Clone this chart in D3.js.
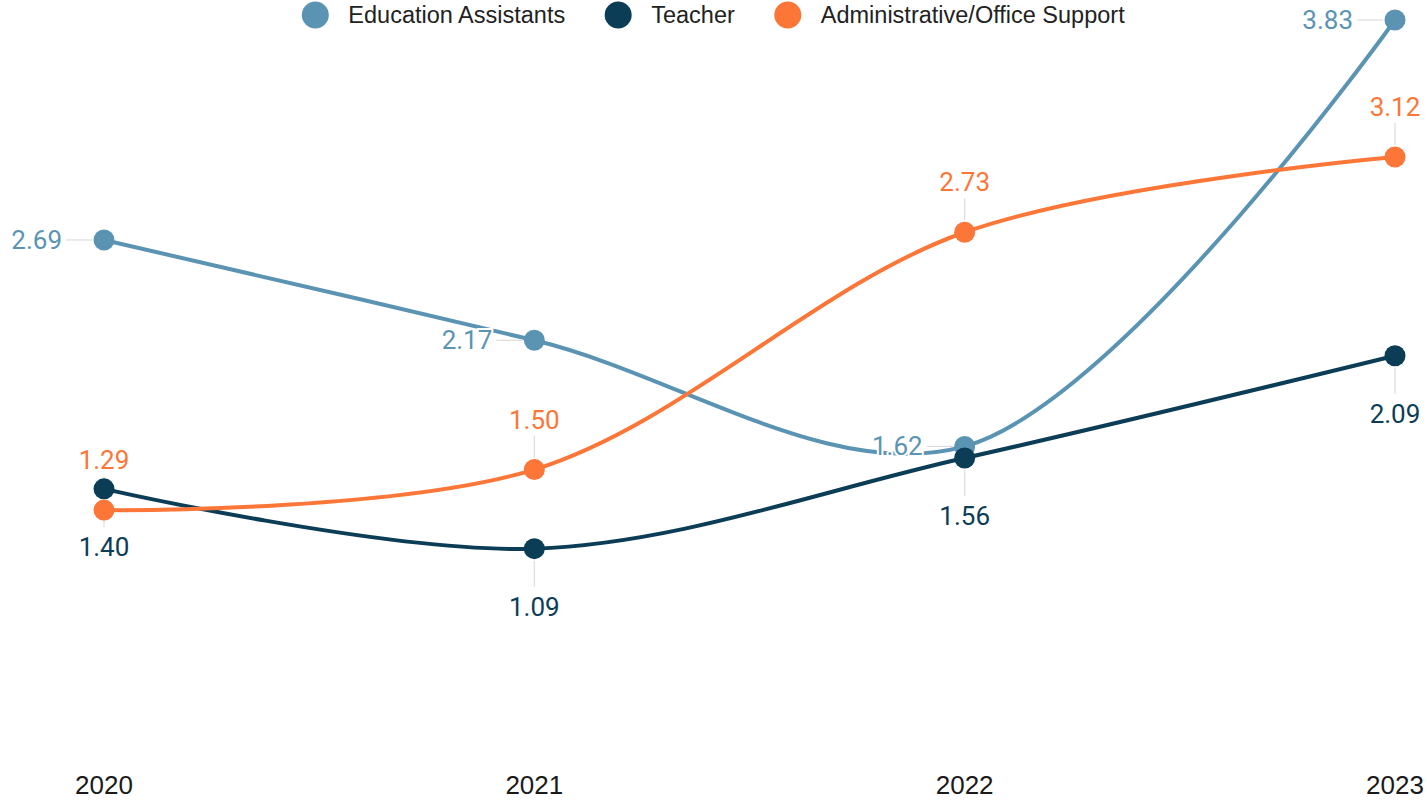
<!DOCTYPE html>
<html>
<head>
<meta charset="utf-8">
<script src="https://cdn.jsdelivr.net/npm/d3@7"></script>
<style>
  body { margin: 0; background: #fff; }
  svg { display: block; }
</style>
</head>
<body>
<div id="chart"></div>
<script>
// data
const years = ["2020", "2021", "2022", "2023"];
const seriesNames = ["Education Assistants", "Teacher", "Administrative/Office Support"];
const eduAssistants = [2.69, 2.17, 1.62, 3.83];
const teacher = [1.40, 1.09, 1.56, 2.09];
const adminSupport = [1.29, 1.50, 2.73, 3.12];
const colors = ["#5b94b3", "#0c3d57", "#fb7637"];
// where each series puts its value labels
const labelSide = ["left", "below", "above"];

const width = 1427, height = 801;

const svg = d3.select("#chart").append("svg")
    .attr("width", width).attr("height", height);

const x = d3.scalePoint().domain(years).range([104, 1395]);
const y = d3.scaleLinear().domain([0, 3.83]).range([759, 20]);

const series = [eduAssistants, teacher, adminSupport].map(function (vals, i) {
    return {
        name: seriesNames[i],
        color: colors[i],
        side: labelSide[i],
        points: vals.map(function (v, j) { return { year: years[j], value: v }; })
    };
});

// x axis labels
svg.append("g").selectAll("text")
    .data(years)
    .enter().append("text")
    .attr("x", d => x(d))
    .attr("y", 794)
    .attr("text-anchor", "middle")
    .attr("font-family", "'Liberation Sans', Arial, sans-serif")
    .attr("font-size", 26)
    .attr("fill", "#1a1a1a")
    .text(d => d);

// lines
const line = d3.line()
    .x(d => x(d.year))
    .y(d => y(d.value))
    .curve(d3.curveCatmullRom);

svg.append("g").selectAll("path")
    .data(series)
    .enter().append("path")
    .attr("d", d => line(d.points))
    .attr("fill", "none")
    .attr("stroke", d => d.color)
    .attr("stroke-width", 4)
    .attr("stroke-linecap", "round");

// leader lines
const leaders = svg.append("g");
series.forEach(function (s) {
    s.points.forEach(function (p) {
        const px = x(p.year), py = y(p.value);
        let x1 = px, y1 = py, x2 = px, y2 = py;
        if (s.side === "left") { x1 = px - 38; x2 = px - 12; }
        else if (s.side === "above") { y1 = py - 34; y2 = py - 12; }
        else { y1 = py + 12; y2 = py + 38; }
        leaders.append("line")
            .attr("x1", x1).attr("y1", y1).attr("x2", x2).attr("y2", y2)
            .attr("stroke", "#dcdcdc").attr("stroke-width", 1.2);
    });
});

// dots
svg.append("g").selectAll("g")
    .data(series)
    .enter().append("g")
    .attr("fill", d => d.color)
    .selectAll("circle")
    .data(d => d.points)
    .enter().append("circle")
    .attr("cx", d => x(d.year))
    .attr("cy", d => y(d.value))
    .attr("r", 10.5);

// value labels
const labels = svg.append("g")
    .attr("font-family", "Roboto, sans-serif")
    .attr("font-size", 26);
series.forEach(function (s) {
    labels.append("g").selectAll("text")
        .data(s.points)
        .enter().append("text")
        .attr("x", function (d) { return s.side === "left" ? x(d.year) - 42 : x(d.year); })
        .attr("y", function (d) {
            if (s.side === "left") return y(d.value) + 9;
            if (s.side === "above") return y(d.value) - 41;
            return y(d.value) + 67;
        })
        .attr("text-anchor", s.side === "left" ? "end" : "middle")
        .attr("fill", s.color)
        .attr("stroke", "#fff")
        .attr("stroke-width", 4)
        .attr("paint-order", "stroke")
        .text(d => d.value.toFixed(2));
});

// legend
const legend = svg.append("g")
    .attr("font-family", "'Liberation Sans', Arial, sans-serif")
    .attr("font-size", 23.5);
let lx = 0;
series.forEach(function (s) {
    const g = legend.append("g").attr("transform", "translate(" + lx + ",0)");
    g.append("circle").attr("cx", 13).attr("cy", 15).attr("r", 13.5).attr("fill", s.color);
    const t = g.append("text").attr("x", 46).attr("y", 23).attr("fill", "#222").text(s.name);
    lx += 46 + t.node().getComputedTextLength() + 40;
});
const legendWidth = lx - 40;
legend.attr("transform", "translate(" + ((width - legendWidth) / 2) + ",0)");
</script>
</body>
</html>
